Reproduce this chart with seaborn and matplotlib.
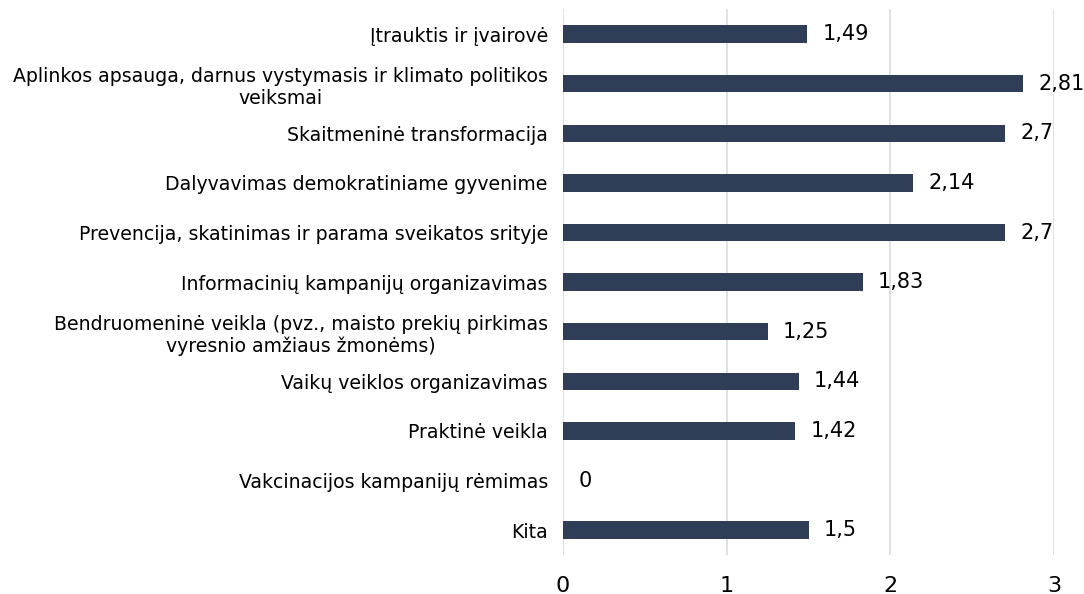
import matplotlib
matplotlib.use("Agg")
import matplotlib.pyplot as plt
import seaborn as sns
import pandas as pd

categories = [
    "Įtrauktis ir įvairovė",
    "Aplinkos apsauga, darnus vystymasis ir klimato politikos\nveiksmai",
    "Skaitmeninė transformacija",
    "Dalyvavimas demokratiniame gyvenime",
    "Prevencija, skatinimas ir parama sveikatos srityje",
    "Informacinių kampanijų organizavimas",
    "Bendruomeninė veikla (pvz., maisto prekių pirkimas\nvyresnio amžiaus žmonėms)",
    "Vaikų veiklos organizavimas",
    "Praktinė veikla",
    "Vakcinacijos kampanijų rėmimas",
    "Kita",
]
values = [1.49, 2.81, 2.7, 2.14, 2.7, 1.83, 1.25, 1.44, 1.42, 0, 1.5]
x_ticks = [0, 1, 2, 3]

df = pd.DataFrame({"kategorija": categories, "reiksme": values})

sns.set_theme(style="white")
plt.rcParams["font.family"] = ["DejaVu Sans"]

fig = plt.figure(figsize=(10.84, 5.94), dpi=100)
ax = fig.add_axes([0.5194, 0.0657, 0.4530, 0.9186])

sns.barplot(data=df, x="reiksme", y="kategorija", orient="h",
            color="#2F3E56", saturation=1, width=0.35, linewidth=0, ax=ax)

ax.set_xlim(0, 3)
ax.set_ylim(len(categories) - 0.5, -0.5)
ax.set_xticks(x_ticks)
ax.set_xticklabels([str(t) for t in x_ticks], fontsize=16, color="#000000")
ax.tick_params(axis="x", length=0, pad=15)
ax.tick_params(axis="y", length=0, pad=11, labelsize=13.6, labelcolor="#000000")
for lbl in ax.get_yticklabels():
    lbl.set_multialignment("center")
ax.set_xlabel("")
ax.set_ylabel("")

for s in ax.spines.values():
    s.set_visible(False)
ax.grid(axis="x", color="#D9D9D9", linewidth=1.1)
ax.set_axisbelow(True)

labels = [f"{v:g}".replace(".", ",") for v in values]
ax.bar_label(ax.containers[0], labels=labels, padding=11, fontsize=15, color="#000000")

fig.savefig("out.png", dpi=100)
